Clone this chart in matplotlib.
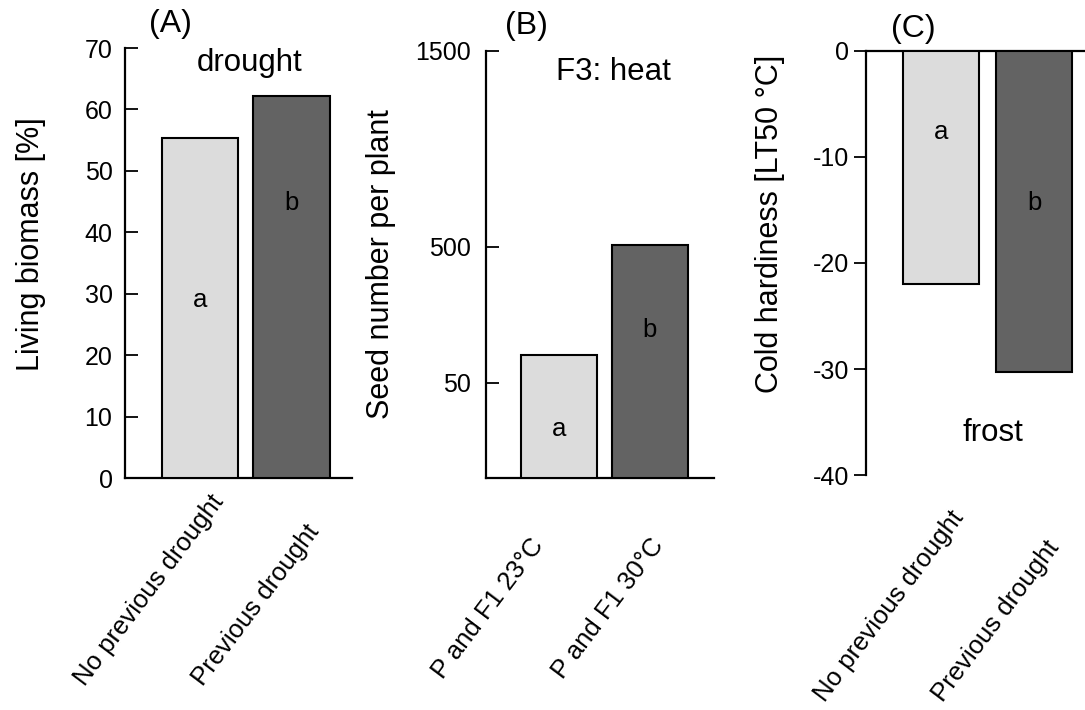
import matplotlib
matplotlib.use("Agg")
import matplotlib.pyplot as plt
import numpy as np

plt.rcParams['font.family'] = ['Liberation Sans', 'DejaVu Sans']
plt.rcParams['axes.unicode_minus'] = False

# ---- data ----
cats_A = ["No previous drought", "Previous drought"]
vals_A = [55.3, 62.2]
letters_A = ["a", "b"]
letter_y_A = [29, 44.8]

cats_B = ["P and F1 23°C", "P and F1 30°C"]
vals_B = [143, 510]
letters_B = ["a", "b"]
letter_y_B = [26, 225]
ticks_B = [50, 500, 1500]

cats_C = ["No previous drought", "Previous drought"]
vals_C = [-22.0, -30.3]
letters_C = ["a", "b"]
letter_y_C = [-7.6, -14.3]

colors = ["#dcdcdc", "#636363"]

W, H = 1085, 710
fig = plt.figure(figsize=(W / 100, H / 100), dpi=100)


def fx(px):
    return px / W


def fy(py):
    return 1 - py / H


def make_ax(l, r, t, b):
    return fig.add_axes([fx(l), fy(b), fx(r) - fx(l), fy(t) - fy(b)])


TICK_FS = 18
LAB_FS = 22
XL_FS = 18.5
LET_FS = 18.5

# ---------- Panel A ----------
axA = make_ax(125, 352, 48, 478)
axA.bar([0, 1], vals_A, width=0.836, color=colors, edgecolor="black", linewidth=1.5, zorder=3)
axA.set_xlim(-0.82, 1.661)
axA.set_ylim(0, 70)
axA.set_yticks(range(0, 71, 10))
axA.set_xticks([])
for s in ["top", "right"]:
    axA.spines[s].set_visible(False)
for s in ["left", "bottom"]:
    axA.spines[s].set_linewidth(1.6)
axA.tick_params(axis="y", direction="in", length=9, width=1.3, pad=9, labelsize=TICK_FS)
for i, (l, y) in enumerate(zip(letters_A, letter_y_A)):
    axA.text(i, y, l, ha="center", va="center", fontsize=LET_FS)
axA.text(0.55, 0.965, "drought", transform=axA.transAxes, ha="center", va="center", fontsize=22.5)

# ---------- Panel B ----------
bp_v = [0, 50, 500, 1500]
bp_p = [0, 95, 231, 427]


def fwd(v):
    return np.interp(v, bp_v, bp_p)


def inv(p):
    return np.interp(p, bp_p, bp_v)


axB = make_ax(486, 714, 51, 478)
axB.set_yscale("function", functions=(fwd, inv))
axB.bar([0, 1], vals_B, width=0.84, color=colors, edgecolor="black", linewidth=1.5, zorder=3)
axB.set_xlim(-0.802, 1.703)
axB.set_ylim(0, 1500)
axB.set_yticks(ticks_B)
axB.set_yticklabels([str(t) for t in ticks_B])
axB.yaxis.set_minor_locator(matplotlib.ticker.NullLocator())
axB.set_xticks([])
for s in ["top", "right"]:
    axB.spines[s].set_visible(False)
for s in ["left", "bottom"]:
    axB.spines[s].set_linewidth(1.6)
axB.tick_params(axis="y", direction="in", length=9, width=1.3, pad=11, labelsize=TICK_FS)
for i, (l, y) in enumerate(zip(letters_B, letter_y_B)):
    axB.text(i, y, l, ha="center", va="center", fontsize=LET_FS)
axB.text(0.56, 0.95, "F3: heat", transform=axB.transAxes, ha="center", va="center", fontsize=22.5)

# ---------- Panel C ----------
axC = make_ax(866, 1085, 51, 475)
axC.bar([0, 1], vals_C, width=0.817, color=colors, edgecolor="black", linewidth=1.5, zorder=3)
axC.set_xlim(-0.806, 1.548)
axC.set_ylim(-40, 0)
axC.set_yticks(range(-40, 1, 10))
axC.set_xticks([])
for s in ["bottom", "right"]:
    axC.spines[s].set_visible(False)
for s in ["left", "top"]:
    axC.spines[s].set_linewidth(1.6)
axC.tick_params(axis="y", direction="out", length=9, width=1.3, pad=3, labelsize=TICK_FS)
for i, (l, y) in enumerate(zip(letters_C, letter_y_C)):
    axC.text(i, y, l, ha="center", va="center", fontsize=LET_FS)
axC.text(0.58, 0.1, "frost", transform=axC.transAxes, ha="center", va="center", fontsize=22.5)

# ---------- y labels ----------
fig.text(fx(31), fy(244), "Living biomass [%]", rotation=90, ha="center", va="center", fontsize=LAB_FS)
fig.text(fx(381), fy(264), "Seed number per plant", rotation=90, ha="center", va="center", fontsize=LAB_FS)
fig.text(fx(770), fy(224), "Cold hardiness [LT50 °C]", rotation=90, ha="center", va="center", fontsize=LAB_FS)

# ---------- panel letters ----------
fig.text(fx(170), fy(24), "(A)", ha="center", va="center", fontsize=23)
fig.text(fx(526), fy(26), "(B)", ha="center", va="center", fontsize=23)
fig.text(fx(913), fy(29), "(C)", ha="center", va="center", fontsize=23)

# ---------- rotated category labels ----------
ROT = 53
starts_A = [(85, 687), (203, 687)]
starts_B = [(443, 680), (563, 680)]
starts_C = [(825, 703), (943, 703)]
for cats, starts in [(cats_A, starts_A), (cats_B, starts_B), (cats_C, starts_C)]:
    for c, (x, y) in zip(cats, starts):
        fig.text(fx(x), fy(y), c, rotation=ROT, rotation_mode="anchor",
                 ha="left", va="baseline", fontsize=XL_FS)

fig.savefig("out.png", dpi=100)
